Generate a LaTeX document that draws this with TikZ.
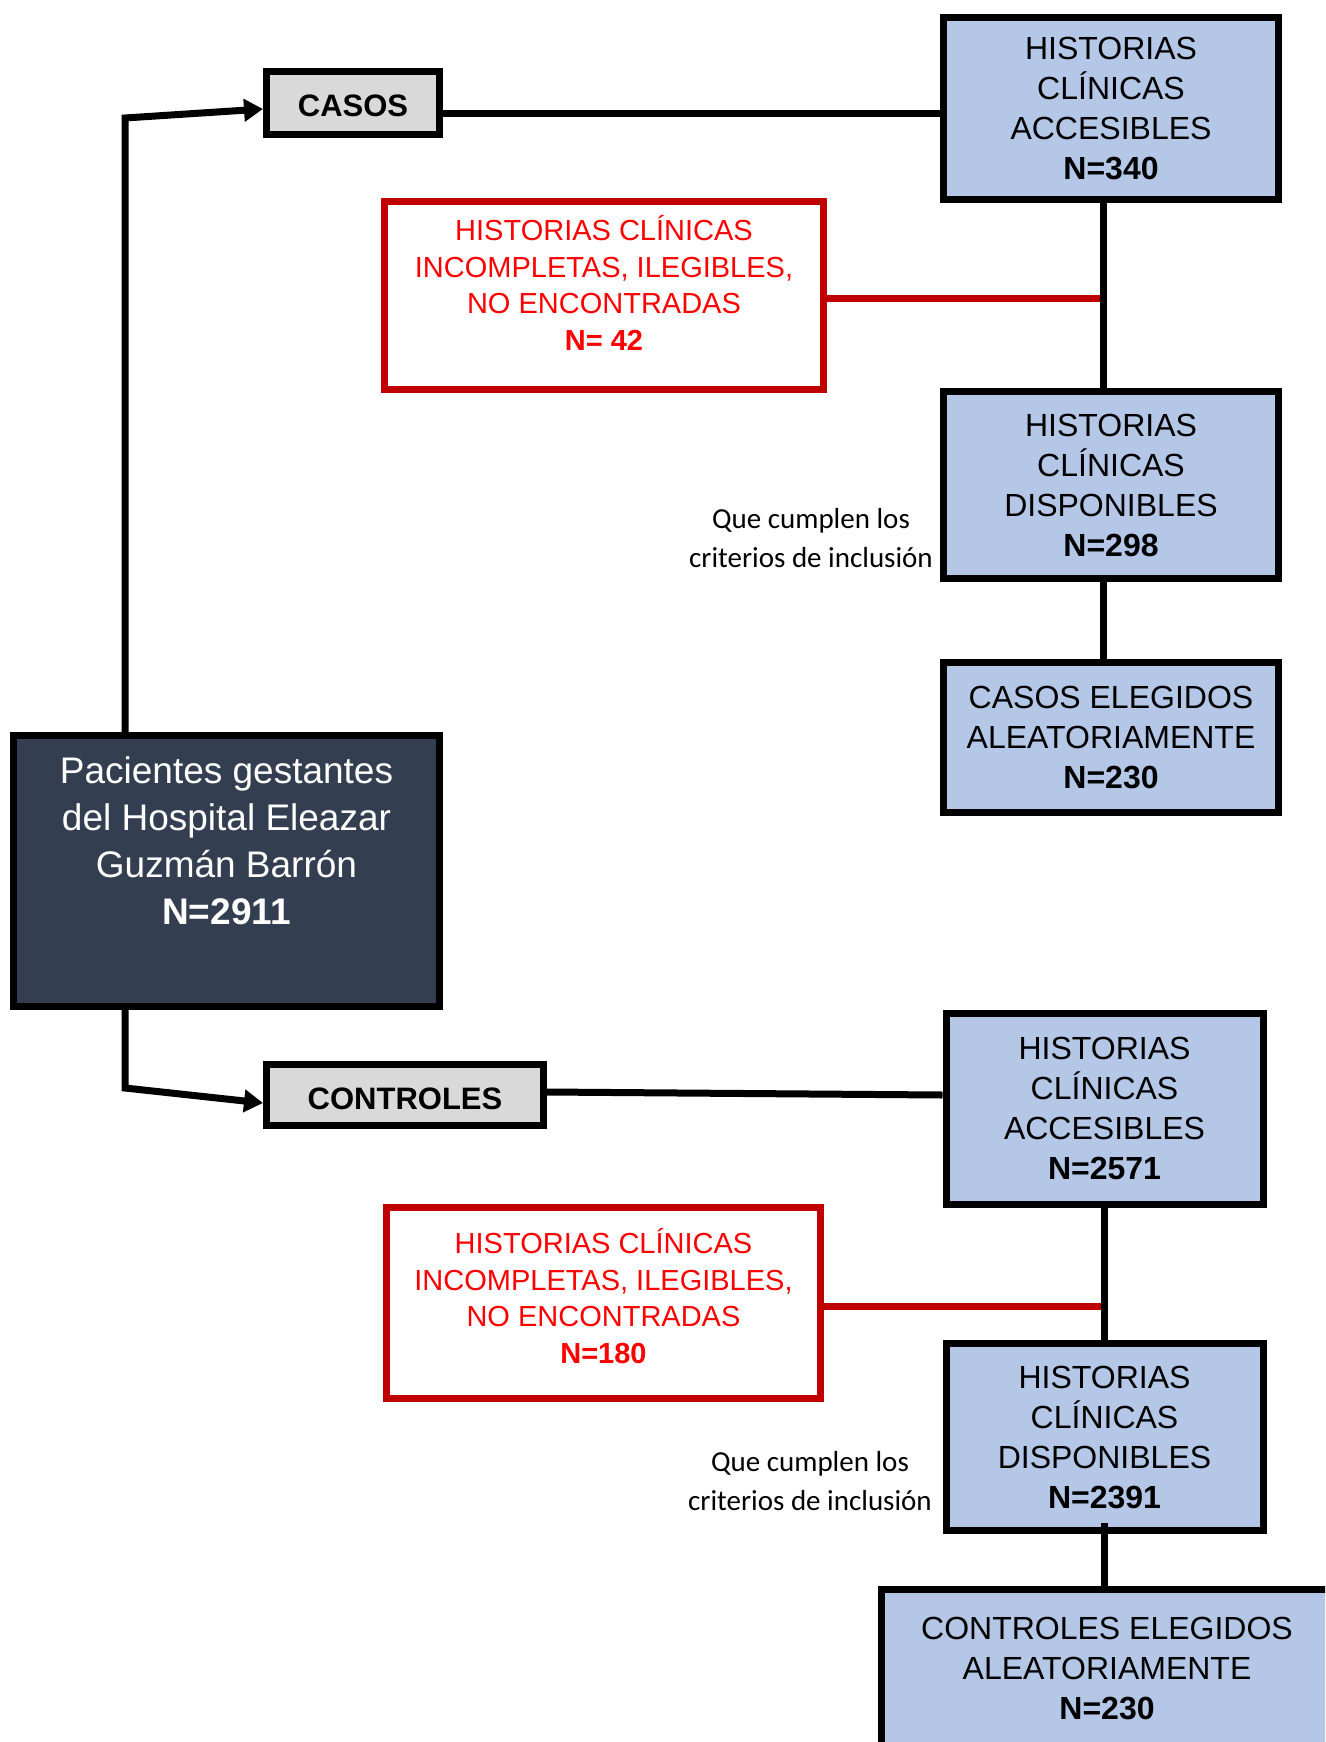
\documentclass[tikz,border=0pt]{standalone}
\usepackage{fontspec}
\setmainfont{Liberation Sans}
\newfontfamily\calibfont{Carlito}
\usetikzlibrary{arrows.meta,calc}
\definecolor{boxblue}{HTML}{B4C7E7}
\definecolor{boxdark}{HTML}{333F50}
\definecolor{boxgray}{HTML}{D9D9D9}
\definecolor{exred}{HTML}{C00000}
\definecolor{txtred}{HTML}{FF0000}
\begin{document}
\begin{tikzpicture}[x=1pt,y=-1pt,
  bluebox/.style={draw=black, line width=7pt, fill=boxblue, inner sep=0pt, align=center, font=\fontsize{32}{40}\selectfont},
  redbox/.style={draw=exred, line width=7pt, fill=white, inner sep=0pt},
  redtext/.style={text=txtred, align=center, font=\fontsize{29}{36.5}\selectfont},
  groupbox/.style={draw=black, line width=7pt, fill=boxgray, inner sep=0pt, text height=28pt, text depth=0pt, font=\bfseries\fontsize{31}{37}\selectfont},
  darkbox/.style={draw=black, line width=7pt, fill=boxdark, inner sep=0pt},
  darktext/.style={text=white, align=center, font=\fontsize{37}{47}\selectfont},
  conn/.style={draw=black, line width=7pt},
  exconn/.style={draw=exred, line width=7pt},
  arr/.style={conn, -{Triangle[length=19pt,width=22pt]}},
  note/.style={align=center, font=\calibfont\fontsize{29}{39}\selectfont}
]
\useasboundingbox (0,0) rectangle (1325,1742);
\clip (0,0) rectangle (1325,1742);

% group boxes
\node[groupbox, minimum width=173pt, minimum height=63pt] (casos) at (353,103) {CASOS};
\node[groupbox, minimum width=277pt, minimum height=61pt] (controles) at (405,1095) {CONTROLES};

% main box
\node[darkbox, minimum width=426pt, minimum height=271pt] (main) at (226.5,871) {};
\node[darktext] (maint) at (226.5,840.5) {Pacientes gestantes\\del Hospital Eleazar\\Guzmán Barrón\\\textbf{N=2911}};

% casos branch
\node[bluebox, minimum width=335pt, minimum height=182pt] (acc1) at (1111,108.5) {HISTORIAS\\CLÍNICAS\\ACCESIBLES\\\textbf{N=340}};
\node[redbox, minimum width=439pt, minimum height=188pt] (red1) at (604,295.5) {};
\node[redtext] (red1t) at (604,283) {HISTORIAS CLÍNICAS\\INCOMPLETAS, ILEGIBLES,\\NO ENCONTRADAS\\\textbf{N= 42}};
\node[bluebox, minimum width=335pt, minimum height=187pt] (disp1) at (1111,485) {HISTORIAS\\CLÍNICAS\\DISPONIBLES\\\textbf{N=298}};
\node[bluebox, minimum width=335pt, minimum height=150pt] (eleg1) at (1111,737.5) {CASOS ELEGIDOS\\ALEATORIAMENTE\\\textbf{N=230}};
\node[note] (note1) at (811,538) {Que cumplen los\\criterios de inclusión};

% controles branch
\node[bluebox, minimum width=317pt, minimum height=191pt] (acc2) at (1104.5,1108.5) {HISTORIAS\\CLÍNICAS\\ACCESIBLES\\\textbf{N=2571}};
\node[redbox, minimum width=434pt, minimum height=191pt] (red2) at (603.5,1303) {};
\node[redtext] (red2t) at (603.5,1296) {HISTORIAS CLÍNICAS\\INCOMPLETAS, ILEGIBLES,\\NO ENCONTRADAS\\\textbf{N=180}};
\node[bluebox, minimum width=317pt, minimum height=187pt] (disp2) at (1104.5,1437) {HISTORIAS\\CLÍNICAS\\DISPONIBLES\\\textbf{N=2391}};
\node[bluebox, minimum width=451pt, minimum height=157pt] (eleg2) at (1107,1668) {CONTROLES ELEGIDOS\\ALEATORIAMENTE\\\textbf{N=230}};
\node[note] (note2) at (810,1481) {Que cumplen los\\criterios de inclusión};

% helper coordinates
\coordinate (lx) at (125,0);
\coordinate (c1) at (125,118);
\coordinate (c2) at (125,1088);
\coordinate (vx1) at (1103,0);
\coordinate (vx2) at (1104,0);

% arrows from main box
\draw[arr] (main.north -| lx) -- (c1) -- ([yshift=-6pt]casos.west);
\draw[arr] (main.south -| lx) -- (c2) -- ([yshift=-8pt]controles.west);

% horizontal connectors
\draw[conn] ([yshift=-11pt]casos.east) -- ([yshift=-11pt]casos.east -| acc1.west);
\draw[conn] ([yshift=3pt]controles.east) -- (controles.east -| acc2.west);

% exclusion connectors
\draw[exconn] ([yshift=-2.5pt]red1.east) -- ([yshift=-2.5pt]red1.east -| vx1);
\draw[exconn] ([yshift=-3pt]red2.east) -- ([yshift=-3pt]red2.east -| vx2);

% vertical connectors
\draw[conn] (acc1.south -| vx1) -- (disp1.north -| vx1);
\draw[conn] (disp1.south -| vx1) -- (eleg1.north -| vx1);
\draw[conn] (acc2.south -| vx2) -- (disp2.north -| vx2);
\coordinate (s5) at ($(disp2.south -| vx2)+(0,-11)$);
\draw[conn] (s5) -- (eleg2.north -| vx2);
\end{tikzpicture}
\end{document}
